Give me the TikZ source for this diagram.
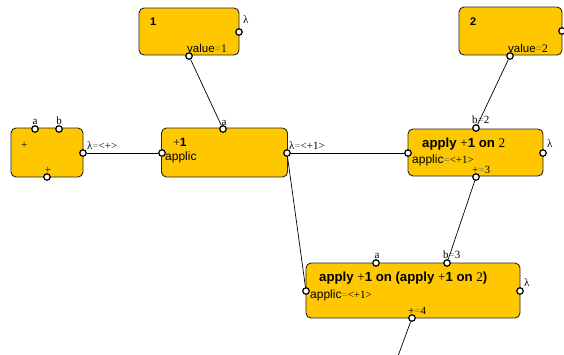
\documentclass[tikz,border=0pt]{standalone}
\usepackage{fontspec}
\setmainfont{Liberation Sans}
\newfontfamily\annfont{Liberation Serif}
\begin{document}
\begin{tikzpicture}[x=1pt,y=-1pt,
  box/.style={draw=black!85,line width=0.9pt,fill={rgb,255:red,255;green,199;blue,0},rounded corners=5pt,inner sep=0pt},
  port/.style={circle,draw=black,line width=1.2pt,fill=white,inner sep=0pt,minimum size=6.5pt},
  wire/.style={draw=black,line width=0.7pt},
  ann/.style={font=\annfont\fontsize{11}{12}\selectfont,inner sep=0pt},
  title/.style={font=\bfseries\fontsize{13.2}{14}\selectfont,inner sep=0pt},
  small/.style={font=\fontsize{12}{13}\selectfont,inner sep=0pt}]
\useasboundingbox (0,0) rectangle (564,354);
\newcommand{\eqg}{\textcolor{black!55}{=}}

% boxes
\node[box,minimum width=72pt,minimum height=49pt] (bplus) at (47,152.5) {};
\node[box,minimum width=100pt,minimum height=47pt] (bone) at (189,31.5) {};
\node[box,minimum width=126pt,minimum height=49pt] (bapp) at (224.5,152.5) {};
\node[box,minimum width=135pt,minimum height=47pt] (bapp2) at (475.5,152.5) {};
\node[box,minimum width=103pt,minimum height=48pt] (btwo) at (510.5,31) {};
\node[box,minimum width=214pt,minimum height=55pt] (bapp3) at (413,290.5) {};

% texts inside boxes
\node[ann,anchor=base west] (tplus) at (21,148) {+};
\node[font=\bfseries\fontsize{11}{12}\selectfont,inner sep=0pt,anchor=base west] (tone) at (150,25) {1};
\node[font=\fontsize{11.5}{12}\selectfont,inner sep=0pt,anchor=base west] (tval1) at (187,52) {value{\annfont\eqg1}};
\node[font=\bfseries\fontsize{11}{12}\selectfont,inner sep=0pt,anchor=base west] (ttwo) at (470,25) {2};
\node[font=\fontsize{11.5}{12}\selectfont,inner sep=0pt,anchor=base west] (tval2) at (508,52) {value{\annfont\eqg2}};
\node[small,anchor=base west] (tp1) at (173,146) {{\annfont+}\textbf{1}};
\node[small,anchor=base west] (tapplic) at (165,160) {applic};
\node[title,anchor=base west] (tapp2) at (422,147) {apply {\annfont\mdseries+}1 on {\annfont\mdseries2}};
\node[small,anchor=base west] (tapplic2) at (412,163) {applic{\annfont\fontsize{11}{12}\selectfont\eqg<+1>}};
\node[title,anchor=base west] (tapp3) at (319,281) {apply {\annfont\mdseries+}1 on (apply {\annfont\mdseries+}1 on {\annfont\mdseries2})};
\node[small,anchor=base west] (tapplic3) at (310,298) {applic{\annfont\fontsize{11}{12}\selectfont\eqg<+1>}};

% ports
\node[port] (pA) at (35,129) {};
\node[port] (pB) at (59,129) {};
\node[port] (pPlusR) at (83,153) {};
\node[port] (pPlusD) at (47,177) {};
\node[port] (pOneL) at (239,32) {};
\node[port] (pOneV) at (189,56) {};
\node[port] (pAppA) at (223,129) {};
\node[port] (pAppL) at (162,153) {};
\node[port] (pAppR) at (287,153) {};
\node[port] (pApp2B) at (476,128) {};
\node[port] (pApp2L) at (408,153) {};
\node[port] (pApp2R) at (543,153) {};
\node[port] (pApp2D) at (476,177) {};
\node[port] (pTwoL) at (562,31) {};
\node[port] (pTwoV) at (510,56) {};
\node[port] (pApp3A) at (376,263) {};
\node[port] (pApp3B) at (447,263) {};
\node[port] (pApp3L) at (306,291) {};
\node[port] (pApp3R) at (520,291) {};
\node[port] (pApp3D) at (412,318) {};
\coordinate (outEnd) at (398,356);

% port labels
\node[ann,anchor=base] (lA) at (35,124) {a};
\node[ann,anchor=base] (lB) at (59,124) {b};
\node[ann,anchor=base] (lPD) at (48,173) {+};
\node[ann,anchor=base west] (lPR) at (87,149) {λ\eqg<+>};
\node[ann,anchor=base west] (lOneL) at (243,23) {λ};
\node[ann,anchor=base] (lAppA) at (224,125) {a};
\node[ann,anchor=base west] (lAppR) at (289,149) {λ\eqg<+1>};
\node[ann,anchor=base west] (lApp2B) at (472,123) {b\eqg2};
\node[ann,anchor=base west] (lApp2R) at (547,147) {λ};
\node[ann,anchor=base west] (lApp2D) at (472,173) {+\eqg3};
\node[ann,anchor=base] (lApp3A) at (377,258) {a};
\node[ann,anchor=base west] (lApp3B) at (443,258) {b\eqg3};
\node[ann,anchor=base west] (lApp3R) at (524,286) {λ};
\node[ann,anchor=base west] (lApp3D) at (408,314) {+\eqg4};

% connectors
\draw[wire] (pOneV) -- (pAppA);
\draw[wire] (pPlusR) -- (pAppL);
\draw[wire] (pAppR) -- (pApp2L);
\draw[wire] (pAppR) -- (pApp3L);
\draw[wire] (pTwoV) -- (pApp2B);
\draw[wire] (pApp2D) -- (pApp3B);
\draw[wire] (pApp3D) -- (outEnd);
\end{tikzpicture}
\end{document}
